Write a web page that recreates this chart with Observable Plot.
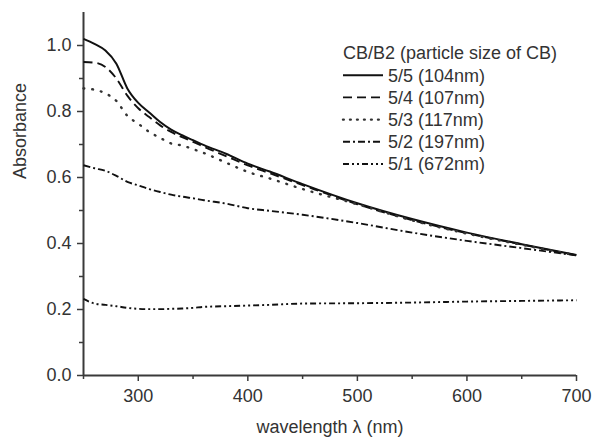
<!DOCTYPE html>
<html><head><meta charset="utf-8">
<script src="https://cdn.jsdelivr.net/npm/d3@7"></script>
<script src="https://cdn.jsdelivr.net/npm/@observablehq/plot@0.6"></script>
<style>
body{margin:0;background:#fff;}
#wrap{position:relative;width:596px;height:440px;font-family:"Liberation Sans",Arial,sans-serif;}
#legend{position:absolute;left:0;top:0;pointer-events:none;}
</style></head><body><div id="wrap"></div>
<script>
// ---- data ----
const wavelength = [250,260,270,280,290,300,310,320,330,340,350,360,380,400,420,450,500,550,600,650,700];
const s5_5 = [1.020,1.005,0.985,0.945,0.870,0.826,0.797,0.768,0.745,0.728,0.713,0.698,0.672,0.642,0.618,0.580,0.522,0.474,0.433,0.398,0.365];
const s5_4 = [0.950,0.948,0.935,0.900,0.848,0.810,0.783,0.758,0.738,0.722,0.708,0.693,0.665,0.637,0.613,0.577,0.519,0.471,0.431,0.397,0.364];
const s5_3 = [0.870,0.866,0.855,0.832,0.787,0.763,0.738,0.720,0.703,0.697,0.686,0.674,0.645,0.617,0.597,0.565,0.519,0.470,0.430,0.396,0.364];
const s5_2 = [0.637,0.628,0.620,0.605,0.587,0.576,0.565,0.556,0.548,0.542,0.537,0.531,0.521,0.507,0.499,0.487,0.462,0.433,0.408,0.386,0.364];
const s5_1 = [0.232,0.218,0.214,0.210,0.205,0.202,0.201,0.201,0.202,0.203,0.205,0.208,0.210,0.212,0.214,0.218,0.219,0.221,0.224,0.226,0.228];
const seriesNames = ["5/5 (104nm)","5/4 (107nm)","5/3 (117nm)","5/2 (197nm)","5/1 (672nm)"];
const seriesValues = [s5_5, s5_4, s5_3, s5_2, s5_1];
const legendTitle = "CB/B2 (particle size of CB)";
const xMajor = [300,400,500,600,700];
const xMinor = [250,350,450,550,650];
const yMajor = [0,0.2,0.4,0.6,0.8,1.0];
const yMinor = [0.1,0.3,0.5,0.7,0.9];
const xLabel = "wavelength \u03bb (nm)";
const yLabel = "Absorbance";

// ---- styles ----
const dashStyles = [null, "9,5", "0.8,8", "7,3,2,3", "6,3,2,3,2,3"];
const legendDash = [null, "9,5", "0.8,6.2", "7,3,2,3", "6,3,2,3,2,3"];
const widths = [2, 1.9, 2.4, 1.9, 1.9];
const ink = "#111";
const axisInk = "#3a3a3a";
const textInk = "#333";

const rows = seriesNames.map((name, i) => wavelength.map((w, j) => ({series: name, wavelength: w, absorbance: seriesValues[i][j]})));

const lineMarks = rows.map((r, i) => Plot.line(r, {
  x: "wavelength", y: "absorbance", stroke: i === 2 ? "#333" : ink, strokeWidth: widths[i],
  strokeDasharray: dashStyles[i] || undefined, strokeLinecap: i === 2 ? "round" : "butt", curve: "monotone-x"
}));

const chart = Plot.plot({
  width: 596, height: 440,
  marginLeft: 83, marginRight: 20, marginTop: 12, marginBottom: 65,
  style: {fontFamily: '"Liberation Sans", Arial, sans-serif', fontSize: "18px", color: textInk, background: "#fff"},
  x: {domain: [250, 700]},
  y: {domain: [0, 1.1]},
  marks: [
    Plot.axisX(xMajor, {tickSize: 6, tickPadding: 8, label: null, stroke: axisInk, strokeWidth: 1.5, fill: textInk, fontSize: 18}),
    Plot.axisX(xMinor, {tickSize: 4, tickFormat: () => "", label: null, stroke: axisInk, strokeWidth: 1.5}),
    Plot.axisY(yMajor, {tickSize: 6, tickPadding: 6, tickFormat: d3.format(".1f"), label: null, stroke: axisInk, strokeWidth: 1.5, fill: textInk, fontSize: 18}),
    Plot.axisY(yMinor, {tickSize: 4, tickFormat: () => "", label: null, stroke: axisInk, strokeWidth: 1.5}),
    Plot.ruleX([250], {stroke: axisInk, strokeWidth: 2}),
    Plot.ruleY([0], {stroke: axisInk, strokeWidth: 2}),
    ...lineMarks,
    Plot.text([xLabel], {frameAnchor: "bottom", dy: 57, fill: textInk, fontSize: 18}),
    Plot.text([yLabel], {frameAnchor: "left", dx: -63, dy: -15, rotate: -90, fill: textInk, fontSize: 18})
  ]
});
const wrap = document.getElementById("wrap");
wrap.appendChild(chart);

// ---- legend overlay ----
const lg = d3.select(wrap).append("svg").attr("id", "legend").attr("width", 596).attr("height", 440)
  .style("font-family", '"Liberation Sans", Arial, sans-serif').style("font-size", "18px");
const lx = 343, ly0 = 53, step = 22.2;
lg.append("text").attr("x", lx).attr("y", ly0).attr("dy", "0.35em").attr("fill", textInk).text(legendTitle);
seriesNames.forEach((name, i) => {
  const y = ly0 + step * (i + 1);
  lg.append("line").attr("x1", lx).attr("x2", lx + 40).attr("y1", y).attr("y2", y)
    .attr("stroke", i === 2 ? "#333" : ink).attr("stroke-width", widths[i])
    .attr("stroke-dasharray", legendDash[i]).attr("stroke-linecap", i === 2 ? "round" : "butt");
  lg.append("text").attr("x", lx + 45).attr("y", y).attr("dy", "0.35em").attr("fill", textInk).text(name);
});
</script></body></html>
